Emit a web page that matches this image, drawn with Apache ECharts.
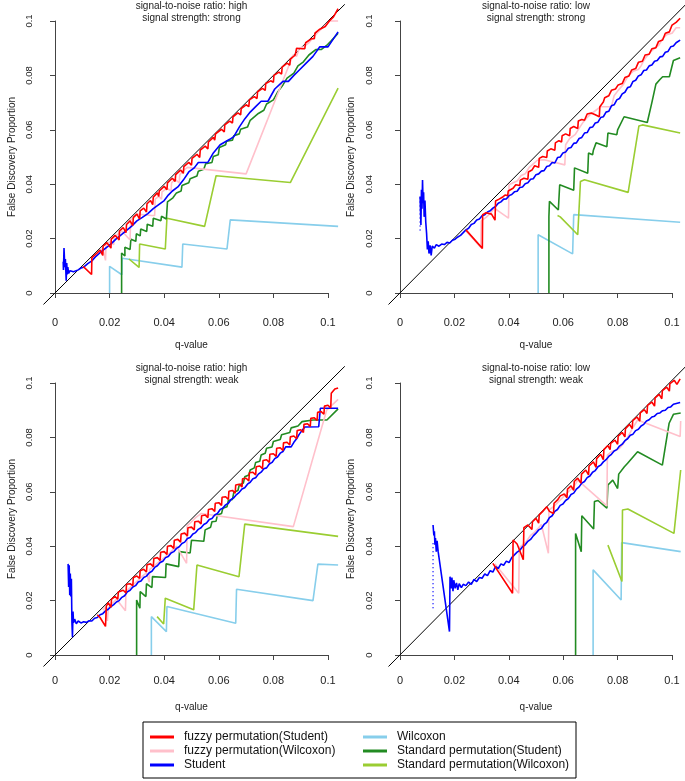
<!DOCTYPE html>
<html>
<head>
<meta charset="utf-8">
<script src="https://cdn.jsdelivr.net/npm/echarts@6/dist/echarts.min.js"></script>
<style>
  html, body { margin: 0; padding: 0; background: #fff; }
  #chart { width: 685px; height: 781px; }
</style>
</head>
<body>
<div id="chart"></div>
<script>
// ticks + legend
const qTicks = [0, 0.02, 0.04, 0.06, 0.08, 0.1];
const methodNames = [
  'fuzzy permutation(Student)', 'fuzzy permutation(Wilcoxon)', 'Student',
  'Wilcoxon', 'Standard permutation(Student)', 'Standard permutation(Wilcoxon)'
];
const methodColors = ['#ff0000', '#ffc0cb', '#0000ff', '#87ceeb', '#228b22', '#9acd32'];
const identityLine = [[-0.01, -0.01], [0.12, 0.12]];

// ---- panel 1: snr high, strong ----
const hsFuzzyStudent = [[0.0103,0.0098],[0.0134,0.0068],[0.0135,0.013],[0.0155,0.0148],[0.0165,0.0158],[0.0175,0.0138],[0.0176,0.0172],[0.019,0.0185],[0.0205,0.0165],[0.0206,0.0198],[0.022,0.0212],[0.0235,0.0195],[0.0236,0.0228],[0.025,0.024],[0.026,0.0222],[0.0262,0.0252],[0.0275,0.0265],[0.0285,0.0248],[0.0287,0.0278],[0.030,0.029],[0.031,0.0272],[0.0312,0.0302],[0.0325,0.0312],[0.0335,0.0298],[0.0337,0.0328],[0.035,0.034],[0.0358,0.0325],[0.036,0.0352],[0.0375,0.0368],[0.038,0.0355],[0.0382,0.0375],[0.040,0.0392],[0.041,0.038],[0.0412,0.0405],[0.043,0.0422],[0.044,0.041],[0.0442,0.0435],[0.046,0.0452],[0.047,0.044],[0.0472,0.0465],[0.049,0.048],[0.050,0.047],[0.0502,0.0495],[0.052,0.051],[0.053,0.0498],[0.0532,0.0525],[0.055,0.054],[0.056,0.053],[0.0562,0.0555],[0.058,0.0572],[0.0585,0.0562],[0.0588,0.0585],[0.061,0.0602],[0.062,0.0592],[0.0622,0.0618],[0.064,0.0632],[0.065,0.0625],[0.0652,0.0648],[0.067,0.0662],[0.068,0.0655],[0.0682,0.0678],[0.070,0.0692],[0.071,0.0685],[0.0712,0.071],[0.073,0.0722],[0.074,0.0715],[0.0742,0.074],[0.076,0.0752],[0.077,0.0745],[0.0772,0.077],[0.079,0.078],[0.080,0.0775],[0.0802,0.080],[0.082,0.0812],[0.083,0.0805],[0.0832,0.083],[0.085,0.0845],[0.086,0.0838],[0.0862,0.086],[0.088,0.0875],[0.0885,0.090],[0.0905,0.0898],[0.0915,0.0898],[0.0918,0.092],[0.094,0.0935],[0.095,0.0935],[0.0952,0.0955],[0.097,0.097],[0.099,0.098],[0.1005,0.1],[0.102,0.1015],[0.1037,0.1045]];
const hsFuzzyWilcoxon = [[0.0135,0.0125],[0.0145,0.0132],[0.0155,0.0142],[0.0175,0.0165],[0.0185,0.012],[0.0187,0.0178],[0.020,0.0188],[0.0215,0.0178],[0.0217,0.0205],[0.0235,0.022],[0.0245,0.0228],[0.0275,0.0195],[0.0277,0.0268],[0.029,0.0278],[0.030,0.029],[0.0355,0.0285],[0.0365,0.0285],[0.0367,0.0345],[0.038,0.0355],[0.039,0.0345],[0.0392,0.0372],[0.041,0.0385],[0.0425,0.0375],[0.0427,0.0405],[0.044,0.0418],[0.0455,0.0405],[0.0457,0.0435],[0.047,0.045],[0.0485,0.0462],[0.070,0.0438],[0.0872,0.0875],[0.0885,0.087],[0.0895,0.09],[0.091,0.0905],[0.093,0.092],[0.096,0.0955],[0.0985,0.098],[0.1005,0.1],[0.1037,0.1]];
const hsStudent = [[0.0030,0.0115],[0.0031,0.0085],[0.0033,0.0165],[0.0036,0.0095],[0.0038,0.0125],[0.0041,0.0045],[0.0043,0.011],[0.0045,0.0068],[0.0047,0.0095],[0.005,0.0072],[0.0055,0.0082],[0.006,0.0075],[0.0068,0.0078],[0.0075,0.0082],[0.0085,0.0085],[0.0095,0.0092],[0.0105,0.0095],[0.012,0.0108],[0.0135,0.0118],[0.015,0.0135],[0.0165,0.0148],[0.018,0.016],[0.0195,0.0172],[0.021,0.0185],[0.0225,0.02],[0.024,0.0212],[0.026,0.0228],[0.028,0.0245],[0.030,0.0265],[0.032,0.0278],[0.034,0.0292],[0.036,0.031],[0.038,0.0325],[0.040,0.034],[0.0415,0.036],[0.043,0.0375],[0.045,0.039],[0.047,0.0415],[0.049,0.0445],[0.051,0.046],[0.0525,0.048],[0.056,0.048],[0.058,0.0515],[0.0605,0.0545],[0.064,0.0565],[0.0655,0.0575],[0.0675,0.061],[0.0695,0.064],[0.0715,0.0665],[0.0735,0.0685],[0.0755,0.0705],[0.078,0.0705],[0.0805,0.075],[0.0835,0.0778],[0.0855,0.0778],[0.0875,0.080],[0.0895,0.082],[0.092,0.0845],[0.0945,0.087],[0.097,0.0905],[0.100,0.0905],[0.1037,0.096]];
const hsWilcoxon = [[0.020,0],[0.020,0.0098],[0.0245,0.0067],[0.0246,0.0128],[0.0465,0.0095],[0.0468,0.018],[0.063,0.0162],[0.0642,0.0269],[0.1037,0.0245]];
const hsStdStudent = [[0.0244,0],[0.0244,0.0147],[0.0256,0.0136],[0.0256,0.0168],[0.0275,0.016],[0.0278,0.0198],[0.0296,0.019],[0.0298,0.0218],[0.0312,0.021],[0.0314,0.0235],[0.0336,0.0226],[0.0338,0.0253],[0.0358,0.0245],[0.036,0.0275],[0.0388,0.0266],[0.039,0.0282],[0.0408,0.0272],[0.0412,0.0335],[0.0432,0.035],[0.0445,0.0368],[0.0462,0.0375],[0.0465,0.0395],[0.049,0.0405],[0.0495,0.042],[0.052,0.043],[0.0525,0.0448],[0.0545,0.0455],[0.0552,0.0475],[0.0575,0.048],[0.058,0.0502],[0.0598,0.0508],[0.0602,0.0535],[0.0625,0.0545],[0.0628,0.0558],[0.065,0.0562],[0.0655,0.0578],[0.0675,0.0585],[0.068,0.0602],[0.0705,0.061],[0.0715,0.0635],[0.0745,0.066],[0.0765,0.0672],[0.0775,0.0695],[0.080,0.071],[0.0815,0.0738],[0.0835,0.0765],[0.085,0.079],[0.0875,0.0808],[0.089,0.0835],[0.091,0.085],[0.093,0.0875],[0.0955,0.0895],[0.0975,0.0895],[0.0995,0.091],[0.101,0.0925],[0.1037,0.0955]];
const hsStdWilcoxon = [[0.0271,0.0125],[0.0308,0.0094],[0.031,0.018],[0.0404,0.0162],[0.041,0.0275],[0.0548,0.0245],[0.059,0.0431],[0.0862,0.0406],[0.1037,0.0753]];

// ---- panel 2: snr low, strong ----
const lsFuzzyStudent = [[0.0245,0.0232],[0.0306,0.0164],[0.0307,0.0288],[0.032,0.0295],[0.034,0.029],[0.0353,0.0268],[0.0355,0.0338],[0.0368,0.0345],[0.038,0.0352],[0.039,0.036],[0.040,0.0358],[0.0402,0.0375],[0.042,0.0385],[0.043,0.0398],[0.0445,0.0395],[0.0447,0.0415],[0.046,0.0422],[0.0475,0.0418],[0.0477,0.0445],[0.049,0.0452],[0.050,0.0468],[0.0515,0.0462],[0.0517,0.0495],[0.053,0.0502],[0.0545,0.0498],[0.0547,0.0522],[0.056,0.053],[0.0575,0.0525],[0.0577,0.0552],[0.059,0.056],[0.060,0.0555],[0.0602,0.0578],[0.0615,0.0585],[0.063,0.0578],[0.0632,0.0605],[0.0645,0.0612],[0.066,0.0605],[0.0662,0.0632],[0.0675,0.0638],[0.0685,0.0635],[0.0695,0.0658],[0.071,0.0662],[0.0725,0.0655],[0.074,0.0648],[0.0742,0.0685],[0.0755,0.0702],[0.076,0.0718],[0.0775,0.0725],[0.0785,0.0745],[0.080,0.075],[0.081,0.0765],[0.0825,0.077],[0.0835,0.0792],[0.085,0.0798],[0.086,0.082],[0.0875,0.0825],[0.0885,0.0848],[0.090,0.0852],[0.091,0.0875],[0.0925,0.0878],[0.0935,0.0898],[0.095,0.0902],[0.096,0.0925],[0.0975,0.093],[0.0985,0.0955],[0.1,0.096],[0.101,0.0985],[0.1025,0.0995],[0.104,0.101]];
const lsFuzzyWilcoxon = [[0.0242,0.0232],[0.0300,0.0168],[0.0302,0.0265],[0.032,0.0278],[0.034,0.0298],[0.035,0.0312],[0.0403,0.0275],[0.0405,0.0398],[0.042,0.0405],[0.0435,0.0412],[0.045,0.0432],[0.0465,0.0438],[0.048,0.0462],[0.0495,0.0475],[0.051,0.0488],[0.0535,0.049],[0.0612,0.0471],[0.0615,0.0545],[0.063,0.0568],[0.065,0.0582],[0.0665,0.0605],[0.068,0.0628],[0.0695,0.0645],[0.0705,0.0655],[0.0725,0.067],[0.0745,0.0685],[0.0785,0.0685],[0.0795,0.0725],[0.081,0.0745],[0.083,0.0768],[0.0845,0.0795],[0.0865,0.0815],[0.0885,0.0822],[0.0895,0.0835],[0.0905,0.0855],[0.092,0.0875],[0.094,0.0895],[0.096,0.091],[0.0975,0.0935],[0.099,0.095],[0.101,0.0955],[0.1025,0.0975],[0.104,0.0975]];
const lsStudent = [[0.0075,0.0355],[0.0078,0.025],[0.008,0.038],[0.0082,0.031],[0.0084,0.0415],[0.0086,0.033],[0.0088,0.037],[0.009,0.028],[0.0093,0.034],[0.0096,0.026],[0.0099,0.022],[0.0102,0.016],[0.0105,0.019],[0.0108,0.0145],[0.0112,0.0175],[0.0116,0.0138],[0.012,0.0172],[0.0128,0.0165],[0.0135,0.0178],[0.0145,0.0172],[0.0155,0.018],[0.0165,0.0178],[0.0175,0.0186],[0.0185,0.0184],[0.0195,0.0194],[0.0205,0.0198],[0.0215,0.0206],[0.0225,0.0212],[0.0235,0.0222],[0.0245,0.0232],[0.0255,0.0238],[0.0265,0.0252],[0.0275,0.0256],[0.0285,0.0268],[0.0295,0.0272],[0.0305,0.0284],[0.0315,0.0288],[0.0325,0.0298],[0.0335,0.0302],[0.0345,0.0312],[0.0355,0.0318],[0.0365,0.033],[0.0375,0.0335],[0.0385,0.0345],[0.0395,0.0346],[0.0405,0.0358],[0.0415,0.0362],[0.0425,0.0372],[0.0435,0.0374],[0.0445,0.0388],[0.0455,0.039],[0.0465,0.0402],[0.0475,0.0405],[0.0485,0.0418],[0.0495,0.042],[0.0505,0.0435],[0.0515,0.0438],[0.0525,0.0448],[0.0535,0.045],[0.0545,0.0465],[0.0555,0.0468],[0.0565,0.048],[0.0575,0.0478],[0.0585,0.0498],[0.0595,0.05],[0.0605,0.0515],[0.0615,0.0518],[0.0625,0.0532],[0.0635,0.0535],[0.0645,0.055],[0.0655,0.0552],[0.0665,0.0568],[0.0675,0.0572],[0.0685,0.0588],[0.0695,0.059],[0.0705,0.0608],[0.0715,0.061],[0.0725,0.0625],[0.0735,0.0628],[0.0745,0.0645],[0.0755,0.0648],[0.0765,0.0665],[0.0775,0.0668],[0.0785,0.0688],[0.0795,0.0692],[0.0805,0.071],[0.0815,0.0715],[0.0825,0.0732],[0.0835,0.0738],[0.0845,0.0755],[0.0855,0.0758],[0.0865,0.0778],[0.0875,0.0782],[0.0885,0.0798],[0.0895,0.0802],[0.0905,0.0818],[0.0915,0.082],[0.0925,0.0835],[0.0935,0.0838],[0.0945,0.0852],[0.0955,0.0855],[0.0965,0.0868],[0.0975,0.087],[0.0985,0.0885],[0.0995,0.0888],[0.1005,0.0905],[0.1015,0.0908],[0.1025,0.092],[0.104,0.093]];
const lsStudentDots = [[0.0075,0.023],[0.0075,0.036]];
const lsWilcoxon = [[0.0513,0],[0.0513,0.0214],[0.0641,0.0144],[0.0645,0.0288],[0.104,0.026]];
const lsStdStudent = [[0.0553,0],[0.0553,0.028],[0.0555,0.0337],[0.0588,0.0305],[0.0593,0.0398],[0.0645,0.0378],[0.0648,0.046],[0.0697,0.044],[0.0700,0.0515],[0.0715,0.0508],[0.0718,0.0525],[0.0728,0.0552],[0.0768,0.0538],[0.0772,0.0588],[0.0805,0.0582],[0.0808,0.060],[0.0832,0.0648],[0.0918,0.0627],[0.0935,0.070],[0.095,0.0768],[0.0965,0.0785],[0.0975,0.0795],[0.1,0.0795],[0.1015,0.0855],[0.104,0.0865]];
const lsStdWilcoxon = [[0.0585,0.0285],[0.0595,0.028],[0.066,0.0214],[0.067,0.041],[0.0685,0.0416],[0.0847,0.037],[0.0887,0.0614],[0.090,0.0618],[0.104,0.0588]];

// ---- panel 3: snr high, weak ----
const hwFuzzyStudent = [[0.0155,0.0148],[0.0165,0.0138],[0.0185,0.0105],[0.0188,0.018],[0.0195,0.0192],[0.0205,0.0175],[0.0207,0.0205],[0.022,0.0215],[0.023,0.0205],[0.0232,0.0232],[0.025,0.0238],[0.026,0.0228],[0.0262,0.026],[0.0275,0.0262],[0.0285,0.0255],[0.0287,0.0285],[0.030,0.029],[0.031,0.0282],[0.0312,0.031],[0.0325,0.0315],[0.0335,0.0305],[0.0337,0.0332],[0.035,0.0335],[0.036,0.0325],[0.0362,0.0355],[0.0375,0.0358],[0.0385,0.0348],[0.0387,0.0378],[0.040,0.038],[0.041,0.037],[0.0412,0.04],[0.0425,0.0402],[0.0435,0.0392],[0.0437,0.0422],[0.045,0.0425],[0.046,0.0415],[0.0462,0.0445],[0.0475,0.0448],[0.0485,0.0438],[0.0487,0.0468],[0.050,0.047],[0.051,0.046],[0.0512,0.049],[0.0525,0.0492],[0.0535,0.0482],[0.0537,0.0512],[0.055,0.0515],[0.056,0.0505],[0.0562,0.0535],[0.0575,0.0538],[0.0585,0.0528],[0.0587,0.0558],[0.060,0.056],[0.061,0.055],[0.0612,0.058],[0.0625,0.0582],[0.0635,0.0572],[0.0637,0.0602],[0.065,0.0605],[0.066,0.0595],[0.0662,0.0625],[0.0675,0.0628],[0.0685,0.0618],[0.0687,0.0648],[0.070,0.065],[0.071,0.064],[0.0712,0.067],[0.0725,0.0672],[0.0735,0.0662],[0.0737,0.0692],[0.075,0.0695],[0.076,0.0685],[0.0762,0.0715],[0.0775,0.0718],[0.0785,0.0708],[0.0787,0.0738],[0.080,0.074],[0.081,0.073],[0.0812,0.076],[0.0825,0.0762],[0.0835,0.0752],[0.0837,0.078],[0.085,0.0782],[0.086,0.0772],[0.0862,0.0802],[0.0875,0.0805],[0.0885,0.0795],[0.0887,0.0825],[0.090,0.0828],[0.091,0.0818],[0.0912,0.0848],[0.0925,0.085],[0.0935,0.084],[0.0937,0.087],[0.095,0.0872],[0.096,0.0862],[0.0962,0.0892],[0.0975,0.0895],[0.0985,0.0885],[0.0987,0.0915],[0.100,0.0918],[0.101,0.0908],[0.1012,0.0962],[0.1025,0.0978],[0.1037,0.0982]];
const hwFuzzyWilcoxon = [[0.0175,0.0165],[0.0185,0.0175],[0.0192,0.0125],[0.0195,0.0172],[0.0205,0.0185],[0.0215,0.0195],[0.0225,0.0205],[0.0258,0.0163],[0.026,0.0235],[0.0275,0.0248],[0.029,0.0262],[0.0305,0.0275],[0.032,0.029],[0.0335,0.0302],[0.0345,0.0268],[0.0347,0.0315],[0.036,0.0325],[0.0375,0.0338],[0.039,0.035],[0.0405,0.0362],[0.042,0.0375],[0.0435,0.039],[0.0445,0.04],[0.0482,0.0337],[0.0484,0.0475],[0.050,0.049],[0.0515,0.0505],[0.0535,0.052],[0.0873,0.0472],[0.0995,0.090],[0.1037,0.094]];
const hwStudent = [[0.0048,0.0335],[0.005,0.025],[0.0052,0.033],[0.0054,0.022],[0.0056,0.03],[0.0058,0.0215],[0.006,0.028],[0.0062,0.012],[0.0064,0.0065],[0.0066,0.016],[0.0068,0.0118],[0.0072,0.0132],[0.0078,0.0115],[0.0085,0.0125],[0.0095,0.0118],[0.0105,0.0122],[0.0115,0.012],[0.0125,0.0126],[0.0135,0.0125],[0.0145,0.0135],[0.0155,0.0138],[0.0165,0.0148],[0.0175,0.0152],[0.0185,0.0162],[0.0195,0.0168],[0.0205,0.0178],[0.0215,0.0185],[0.0225,0.0195],[0.0235,0.02],[0.0245,0.0212],[0.0255,0.0218],[0.0265,0.0232],[0.0275,0.0238],[0.0285,0.025],[0.0295,0.0255],[0.0305,0.0268],[0.0315,0.0272],[0.0325,0.0285],[0.0335,0.029],[0.0345,0.0302],[0.0355,0.0308],[0.0365,0.0322],[0.0375,0.0328],[0.0385,0.034],[0.0395,0.0345],[0.0405,0.0358],[0.0415,0.0362],[0.0425,0.0375],[0.0435,0.038],[0.0445,0.0392],[0.0455,0.0398],[0.0465,0.041],[0.0475,0.0415],[0.0485,0.0428],[0.0495,0.0432],[0.0505,0.0445],[0.0515,0.045],[0.0525,0.0462],[0.0535,0.0468],[0.0545,0.048],[0.0555,0.0485],[0.0565,0.0498],[0.0575,0.0502],[0.0585,0.0515],[0.0595,0.052],[0.0605,0.0535],[0.0615,0.054],[0.0625,0.0552],[0.0635,0.0558],[0.0645,0.0572],[0.0655,0.0578],[0.0665,0.059],[0.0675,0.0598],[0.0685,0.061],[0.0695,0.0615],[0.0705,0.0628],[0.0715,0.0635],[0.0725,0.0648],[0.0735,0.0652],[0.0745,0.0665],[0.0755,0.0672],[0.0765,0.0685],[0.0775,0.0688],[0.0785,0.0702],[0.0795,0.0708],[0.0805,0.0722],[0.0815,0.0728],[0.0825,0.0742],[0.0835,0.0748],[0.0845,0.0765],[0.0865,0.0765],[0.0875,0.0782],[0.0885,0.0795],[0.0895,0.0812],[0.0905,0.0825],[0.0915,0.0838],[0.0966,0.0839],[0.0972,0.0907],[0.1037,0.0907]];
const hwWilcoxon = [[0.0353,0],[0.0353,0.0141],[0.0408,0.0086],[0.041,0.0178],[0.0662,0.0117],[0.0665,0.0242],[0.0945,0.020],[0.0963,0.0334],[0.1037,0.0331]];
const hwStdStudent = [[0.0299,0],[0.0299,0.0202],[0.0311,0.0172],[0.0312,0.0233],[0.0333,0.0215],[0.0335,0.0262],[0.0355,0.0248],[0.0357,0.0288],[0.0405,0.0285],[0.0407,0.0335],[0.0453,0.0325],[0.0456,0.038],[0.0495,0.0375],[0.05,0.0422],[0.0545,0.0418],[0.055,0.046],[0.057,0.047],[0.0575,0.049],[0.059,0.0492],[0.0595,0.0515],[0.061,0.052],[0.0615,0.054],[0.063,0.0545],[0.0635,0.0568],[0.065,0.0572],[0.0655,0.0598],[0.067,0.0605],[0.0675,0.0625],[0.069,0.0632],[0.0695,0.0655],[0.071,0.0662],[0.0715,0.068],[0.073,0.0688],[0.0735,0.0708],[0.075,0.0712],[0.0755,0.0735],[0.077,0.0742],[0.0775,0.076],[0.0795,0.0765],[0.080,0.0785],[0.0825,0.0792],[0.083,0.081],[0.086,0.0818],[0.0865,0.0835],[0.089,0.0842],[0.0905,0.0858],[0.0945,0.0864],[0.0996,0.0864],[0.1037,0.0905]];
const hwStdWilcoxon = [[0.0374,0.0141],[0.0398,0.0114],[0.0404,0.0209],[0.0508,0.0166],[0.052,0.0331],[0.0674,0.0288],[0.0695,0.0481],[0.1037,0.0436]];

// ---- panel 4: snr low, weak ----
const lwFuzzyStudent = [[0.0345,0.0337],[0.0418,0.0227],[0.042,0.0423],[0.0435,0.0408],[0.0458,0.035],[0.046,0.0468],[0.0475,0.0478],[0.049,0.0462],[0.0492,0.049],[0.0505,0.0502],[0.0515,0.0485],[0.0517,0.0515],[0.053,0.0528],[0.0545,0.0545],[0.0555,0.0528],[0.057,0.052],[0.0572,0.0558],[0.0585,0.057],[0.0595,0.0585],[0.061,0.0592],[0.062,0.0578],[0.0622,0.061],[0.0635,0.0622],[0.0645,0.0605],[0.0647,0.0638],[0.066,0.065],[0.0672,0.0632],[0.0674,0.0665],[0.069,0.068],[0.070,0.0662],[0.0702,0.0695],[0.0718,0.071],[0.0728,0.069],[0.073,0.0722],[0.0745,0.0738],[0.0755,0.0718],[0.0757,0.0755],[0.0772,0.077],[0.078,0.0755],[0.0782,0.0778],[0.0798,0.079],[0.0808,0.0775],[0.081,0.0805],[0.0825,0.0818],[0.0835,0.0802],[0.0837,0.0832],[0.0852,0.0848],[0.0862,0.0832],[0.0864,0.0862],[0.088,0.0875],[0.089,0.086],[0.0892,0.089],[0.0907,0.0902],[0.0917,0.0888],[0.0919,0.0918],[0.0935,0.093],[0.0945,0.0915],[0.0947,0.0945],[0.0962,0.0958],[0.0972,0.0942],[0.0974,0.0972],[0.099,0.0985],[0.1,0.097],[0.1002,0.0998],[0.1018,0.101],[0.1028,0.0995],[0.104,0.1015]];
const lwFuzzyWilcoxon = [[0.0352,0.0335],[0.0441,0.0227],[0.0443,0.0395],[0.0455,0.0405],[0.047,0.0418],[0.0485,0.044],[0.050,0.0452],[0.0515,0.0468],[0.0525,0.048],[0.0551,0.0374],[0.0553,0.0533],[0.057,0.0545],[0.0585,0.056],[0.060,0.0575],[0.0615,0.059],[0.063,0.0605],[0.0645,0.0618],[0.066,0.0643],[0.0768,0.0548],[0.077,0.0735],[0.0785,0.0748],[0.080,0.0752],[0.0815,0.076],[0.083,0.0778],[0.0845,0.08],[0.086,0.0828],[0.0882,0.0864],[0.1040,0.0803],[0.1042,0.086]];
const lwStudent = [[0.0123,0.0478],[0.0126,0.044],[0.0128,0.0455],[0.013,0.0405],[0.0132,0.043],[0.0135,0.038],[0.0138,0.042],[0.0142,0.038],[0.0184,0.0086],[0.0186,0.0288],[0.019,0.0245],[0.0193,0.0285],[0.0197,0.0235],[0.020,0.0275],[0.0205,0.0245],[0.021,0.0265],[0.0215,0.024],[0.022,0.0262],[0.0228,0.0248],[0.0235,0.026],[0.0245,0.0255],[0.0255,0.0268],[0.0265,0.026],[0.0275,0.0278],[0.0285,0.027],[0.0295,0.0285],[0.0305,0.0282],[0.0315,0.0298],[0.0325,0.0292],[0.0335,0.031],[0.0345,0.0305],[0.0355,0.0325],[0.0365,0.0318],[0.0375,0.0335],[0.0385,0.033],[0.0395,0.0345],[0.0405,0.034],[0.0415,0.0358],[0.0425,0.0368],[0.0435,0.0378],[0.0445,0.0385],[0.0455,0.0398],[0.0465,0.0405],[0.0475,0.0418],[0.0485,0.0425],[0.0495,0.0438],[0.0505,0.0448],[0.0515,0.046],[0.0525,0.0465],[0.0535,0.048],[0.0545,0.0488],[0.0555,0.0505],[0.0565,0.0512],[0.0575,0.0528],[0.0585,0.0535],[0.0595,0.055],[0.0605,0.0555],[0.0615,0.0568],[0.0625,0.0575],[0.0635,0.059],[0.0645,0.0595],[0.0655,0.061],[0.0665,0.0618],[0.0675,0.0632],[0.0685,0.0638],[0.0695,0.0652],[0.0705,0.0658],[0.0715,0.0672],[0.0725,0.0678],[0.0735,0.0692],[0.0745,0.0698],[0.0755,0.071],[0.0765,0.0718],[0.0775,0.073],[0.0785,0.0738],[0.0795,0.075],[0.0805,0.0755],[0.0815,0.0768],[0.0825,0.0775],[0.0835,0.0788],[0.0845,0.0795],[0.0855,0.0808],[0.0865,0.0812],[0.0875,0.0825],[0.0885,0.083],[0.0895,0.0842],[0.0905,0.0848],[0.0915,0.086],[0.0925,0.0865],[0.0935,0.0875],[0.0945,0.0878],[0.0955,0.0888],[0.0965,0.089],[0.0975,0.0898],[0.0985,0.09],[0.0995,0.091],[0.1005,0.0912],[0.1015,0.0922],[0.104,0.0928]];
const lwStudentDots = [[0.0123,0.0172],[0.0123,0.0417]];
const lwWilcoxon = [[0.0717,0],[0.0717,0.0313],[0.0821,0.0202],[0.0823,0.0413],[0.1042,0.038]];
const lwStdStudent = [[0.0652,0],[0.0652,0.0447],[0.0673,0.038],[0.0675,0.0512],[0.0719,0.0463],[0.0722,0.0564],[0.0735,0.0568],[0.0768,0.054],[0.0772,0.0625],[0.079,0.0643],[0.0808,0.0612],[0.0812,0.0665],[0.0833,0.0692],[0.0845,0.0705],[0.0882,0.0747],[0.0974,0.0698],[0.0999,0.0852],[0.1015,0.0885],[0.1042,0.089]];
const lwStdWilcoxon = [[0.0772,0.0404],[0.0824,0.027],[0.0826,0.0533],[0.0846,0.0537],[0.1017,0.0447],[0.1042,0.068]];

const panels = [
  { snr: 'high', strength: 'strong', x0: 55, y0: 293, sx: 2730, sy: 2720, yLine: 49, xLine: 304, labelGap: 13,
    lines: [hsFuzzyStudent, hsFuzzyWilcoxon, hsStudent, hsWilcoxon, hsStdStudent, hsStdWilcoxon], dots: null },
  { snr: 'low', strength: 'strong', x0: 400, y0: 293, sx: 2720, sy: 2720, yLine: 389, xLine: 304, labelGap: 13,
    lines: [lsFuzzyStudent, lsFuzzyWilcoxon, lsStudent, lsWilcoxon, lsStdStudent, lsStdWilcoxon], dots: lsStudentDots },
  { snr: 'high', strength: 'weak', x0: 55, y0: 655, sx: 2730, sy: 2720, yLine: 49, xLine: 667, labelGap: 8,
    lines: [hwFuzzyStudent, hwFuzzyWilcoxon, hwStudent, hwWilcoxon, hwStdStudent, hwStdWilcoxon], dots: null },
  { snr: 'low', strength: 'weak', x0: 400, y0: 655, sx: 2720, sy: 2720, yLine: 389, xLine: 667, labelGap: 8,
    lines: [lwFuzzyStudent, lwFuzzyWilcoxon, lwStudent, lwWilcoxon, lwStdStudent, lwStdWilcoxon], dots: lwStudentDots }
];

const xMin = -0.004, xMax = 0.1058, yMin = -0.004, yMax = 0.106;
const font = '"Liberation Sans", Arial, sans-serif';
const drawOrder = [3, 5, 4, 1, 2, 0];

const grid = [], xAxis = [], yAxis = [], series = [], title = [];
const fmt = v => String(+v.toFixed(2));

panels.forEach((p, i) => {
  // plotting region (hidden axes)
  grid.push({ left: p.x0 + xMin * p.sx, width: (xMax - xMin) * p.sx,
              top: p.y0 - yMax * p.sy, height: (yMax - yMin) * p.sy });
  xAxis.push({ gridIndex: 2 * i, type: 'value', min: xMin, max: xMax, show: false });
  yAxis.push({ gridIndex: 2 * i, type: 'value', min: yMin, max: yMax, show: false });

  // visible axes, only spanning 0..0.1 like R
  grid.push({ left: p.x0, width: 0.1 * p.sx, top: p.y0 - 0.1 * p.sy, height: 0.1 * p.sy });
  xAxis.push({
    gridIndex: 2 * i + 1, type: 'value', min: 0, max: 0.1, interval: 0.02,
    position: 'bottom', offset: p.xLine - p.y0,
    name: 'q-value', nameLocation: 'middle', nameGap: i < 2 ? 36 : 35,
    nameTextStyle: { fontSize: 10, color: '#222', fontFamily: font },
    axisLine: { show: true, lineStyle: { color: '#444', width: 1 } },
    axisTick: { show: true, length: 5, lineStyle: { color: '#444' } },
    axisLabel: { fontSize: 11, color: '#222', margin: p.labelGap, fontFamily: font, formatter: fmt },
    splitLine: { show: false }
  });
  yAxis.push({
    gridIndex: 2 * i + 1, type: 'value', min: 0, max: 0.1, interval: 0.02,
    position: 'left', offset: p.x0 - p.yLine,
    name: 'False Discovery Proportion', nameLocation: 'middle', nameGap: p.yLine - (p.x0 < 100 ? 12 : 351) - 5,
    nameTextStyle: { fontSize: 10, color: '#222', fontFamily: font },
    axisLine: { show: true, lineStyle: { color: '#444', width: 1 } },
    axisTick: { show: true, length: 5, lineStyle: { color: '#444' } },
    axisLabel: { fontSize: 9.5, color: '#222', rotate: 90, margin: 15, fontFamily: font, formatter: fmt },
    splitLine: { show: false }
  });

  title.push({
    text: 'signal-to-noise ratio: ' + p.snr + '\nsignal strength: ' + p.strength,
    left: p.x0 + 0.05 * p.sx, top: p.y0 - 0.1 * p.sy - 21, textAlign: 'center', padding: 0,
    textStyle: { fontSize: 10, fontWeight: 'normal', color: '#222', lineHeight: 12, fontFamily: font }
  });

  series.push({
    type: 'line', xAxisIndex: 2 * i, yAxisIndex: 2 * i, data: identityLine,
    symbol: 'none', silent: true, lineStyle: { color: '#000', width: 1 }, z: 1
  });
  drawOrder.forEach(k => {
    series.push({
      name: methodNames[k], type: 'line', xAxisIndex: 2 * i, yAxisIndex: 2 * i,
      data: p.lines[k], symbol: 'none', color: methodColors[k],
      lineStyle: { color: methodColors[k], width: 1.6 }, z: 2
    });
  });
  if (p.dots) {
    series.push({
      name: 'Student', type: 'line', xAxisIndex: 2 * i, yAxisIndex: 2 * i,
      data: p.dots, symbol: 'none', color: methodColors[2],
      lineStyle: { color: methodColors[2], width: 1.4, type: [1, 3] }, z: 2
    });
  }
});

const legendCommon = {
  orient: 'vertical', icon: 'rect', itemWidth: 24, itemHeight: 3, itemGap: 0,
  selectedMode: false, padding: 0,
  textStyle: { fontSize: 12, color: '#111', lineHeight: 14, fontFamily: font, padding: [0, 0, 0, 5] }
};

const chart = echarts.init(document.getElementById('chart'), null, { renderer: 'canvas' });
chart.setOption({
  animation: false,
  backgroundColor: '#fff',
  textStyle: { fontFamily: font },
  title: title,
  grid: grid,
  xAxis: xAxis,
  yAxis: yAxis,
  legend: [
    Object.assign({ data: methodNames.slice(0, 3), left: 150, top: 730 }, legendCommon),
    Object.assign({ data: methodNames.slice(3), left: 363, top: 730 }, legendCommon)
  ],
  graphic: [{
    type: 'rect', shape: { x: 143, y: 722, width: 433, height: 56 },
    style: { fill: 'none', stroke: '#000', lineWidth: 1 }, silent: true
  }],
  series: series
});
</script>
</body>
</html>
